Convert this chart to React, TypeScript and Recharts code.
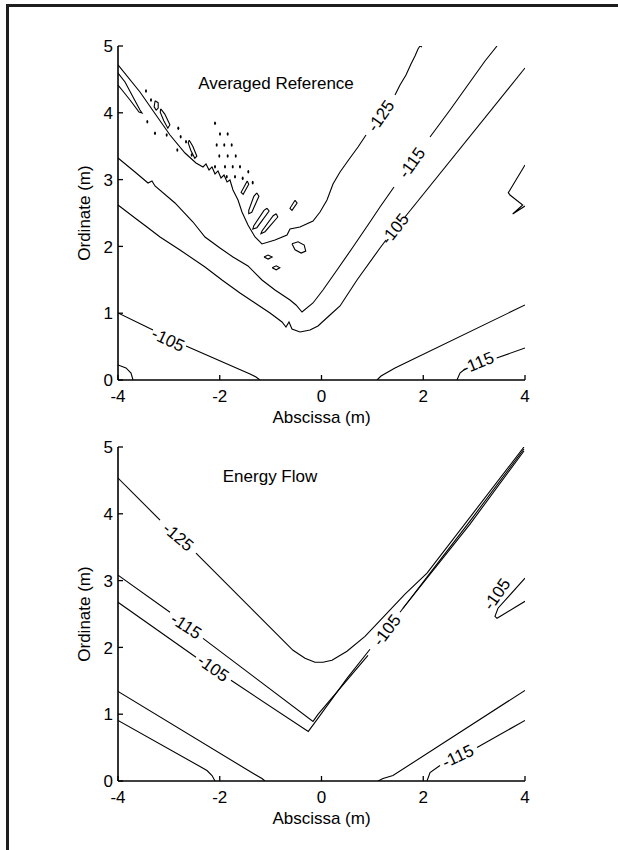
import React from 'react';
import { ComposedChart, Line, Scatter, XAxis, YAxis, Label } from 'recharts';

type P = [number, number];

const xTicks = [-4, -2, 0, 2, 4];
const yTicks = [0, 1, 2, 3, 4, 5];

// ---- Averaged Reference (top panel) ----
const ar125a: P[] = [[-4, 4.716], [-3.568, 4.311], [-3.253, 3.967], [-2.978, 3.668], [-2.683, 3.398], [-2.467, 3.249], [-2.329, 3.189], [-2.27, 3.234], [-2.211, 3.144], [-2.152, 3.189], [-2.093, 3.084], [-2.034, 3.129], [-1.975, 3.024], [-1.916, 3.069], [-1.857, 2.964], [-1.799, 2.994], [-1.74, 2.844], [-1.641, 2.695], [-1.563, 2.515], [-1.445, 2.32], [-1.307, 2.141], [-1.17, 2.036], [-0.914, 2.096], [-0.678, 2.171], [-0.619, 2.26], [-0.423, 2.29], [-0.167, 2.38], [-0.029, 2.515], [0.108, 2.695], [0.226, 2.934], [0.364, 3.114], [0.56, 3.323], [0.718, 3.488], [0.875, 3.668]];
const ar125b: P[] = [[1.445, 4.266], [1.543, 4.416], [1.661, 4.566], [1.759, 4.731], [1.838, 4.85], [1.897, 4.955], [1.936, 5.0], [1.976, 4.985]];
const ar115a: P[] = [[-4, 3.323], [-3.666, 3.114], [-3.41, 2.949], [-3.332, 2.979], [-3.273, 2.904], [-2.88, 2.65], [-2.526, 2.365], [-2.29, 2.141], [-1.995, 1.976], [-1.74, 1.841], [-1.445, 1.707], [-1.17, 1.497], [-0.914, 1.347], [-0.619, 1.198], [-0.501, 1.123], [-0.383, 1.018], [-0.167, 1.153], [0.029, 1.347], [0.305, 1.647], [0.619, 1.991], [0.953, 2.365], [1.15, 2.59], [1.425, 2.889]];
const ar115b: P[] = [[2.133, 3.638], [2.526, 4.042], [2.919, 4.461], [3.214, 4.775], [3.45, 5.0]];
const ar105a: P[] = [[-4, 2.62], [-3.666, 2.425], [-3.43, 2.29], [-3.174, 2.141], [-2.781, 1.946], [-2.29, 1.692], [-1.956, 1.497], [-1.602, 1.302], [-1.307, 1.153], [-1.012, 1.003], [-0.776, 0.868], [-0.698, 0.793], [-0.639, 0.868], [-0.58, 0.763], [-0.423, 0.719], [-0.226, 0.749], [-0.069, 0.808], [0.167, 0.973], [0.364, 1.108], [0.698, 1.497], [1.15, 1.976], [1.268, 2.096]];
const ar105b: P[] = [[1.641, 2.44], [4, 4.671]];
const arTongue: P[] = [[-4, 4.596], [-3.862, 4.461], [-3.705, 4.237], [-3.568, 4.042], [-3.528, 3.997], [-3.587, 4.012], [-3.764, 4.192], [-3.921, 4.341], [-4, 4.416]];
const arLoopA: P[] = [[-3.27, 4.18], [-3.21, 4.15], [-3.21, 4.07], [-3.25, 4.04], [-3.29, 4.09], [-3.27, 4.18]];
const arLoopB: P[] = [[-3.16, 4.06], [-3.08, 3.98], [-2.98, 3.82], [-3.02, 3.77], [-3.1, 3.88], [-3.17, 4.01], [-3.16, 4.06]];
const arLoopC: P[] = [[-2.6, 3.59], [-2.53, 3.5], [-2.45, 3.35], [-2.49, 3.32], [-2.57, 3.44], [-2.62, 3.55], [-2.6, 3.59]];
const arLoopF: P[] = [[-1.46, 2.98], [-1.43, 2.93], [-1.54, 2.78], [-1.58, 2.81], [-1.46, 2.98]];
const arLoopG: P[] = [[-1.27, 2.8], [-1.23, 2.75], [-1.37, 2.51], [-1.43, 2.49], [-1.43, 2.54], [-1.33, 2.75], [-1.27, 2.8]];
const arLoopH: P[] = [[-1.07, 2.57], [-1.03, 2.53], [-1.27, 2.28], [-1.35, 2.26], [-1.33, 2.31], [-1.13, 2.54], [-1.07, 2.57]];
const arLoopI: P[] = [[-0.89, 2.49], [-0.86, 2.44], [-1.11, 2.22], [-1.19, 2.19], [-1.17, 2.23], [-0.95, 2.46], [-0.89, 2.49]];
const arLoopK: P[] = [[-0.58, 2.04], [-0.46, 2.07], [-0.34, 2.02], [-0.31, 1.93], [-0.4, 1.9], [-0.52, 1.95], [-0.58, 2.04]];
const arLoopL: P[] = [[-1.13, 1.84], [-1.05, 1.87], [-0.97, 1.84], [-1.05, 1.81], [-1.13, 1.84]];
const arLoopM: P[] = [[-0.97, 1.68], [-0.89, 1.71], [-0.82, 1.68], [-0.89, 1.65], [-0.97, 1.68]];
const arLoopN: P[] = [[-0.52, 2.69], [-0.48, 2.65], [-0.58, 2.54], [-0.62, 2.57], [-0.52, 2.69]];
const ar105La: P[] = [[-4, 1.003], [-3.312, 0.749]];
const ar105Lb: P[] = [[-2.663, 0.509], [-1.405, 0.09], [-1.287, 0.045], [-1.209, 0]];
const arCorner: P[] = [[-4, 0.225], [-3.843, 0.18], [-3.744, 0.105], [-3.705, 0]];
const arR1: P[] = [[1.091, 0], [1.17, 0.06], [1.307, 0.12], [1.445, 0.18], [4, 1.123]];
const arR2a: P[] = [[2.663, 0], [2.722, 0.105], [2.821, 0.165]];
const arR2b: P[] = [[3.443, 0.329], [4, 0.479]];
const arZig: P[] = [[4, 3.219], [3.672, 2.804], [3.705, 2.769], [3.955, 2.62], [3.758, 2.485], [4, 2.605]];

const arDots: P[] = [[-3.45, 4.326], [-3.351, 4.192], [-3.424, 3.867], [-3.273, 3.693], [-3.043, 3.668], [-2.815, 3.768], [-2.768, 3.642], [-2.663, 3.567], [-2.834, 3.443], [-2.551, 3.368],
  [-2.093, 3.843], [-1.995, 3.683], [-1.844, 3.683], [-2.06, 3.518], [-1.911, 3.518], [-1.765, 3.518], [-2.009, 3.353], [-1.844, 3.353], [-1.686, 3.353], [-2.093, 3.193], [-1.897, 3.193], [-1.745, 3.193], [-1.602, 3.193], [-1.439, 3.118], [-1.863, 3.043], [-1.7, 3.043], [-1.549, 3.019], [-1.352, 2.954]];

const arLabels: [string, number, number, number][] = [
  ['Averaged Reference', -0.894, 4.446, 0],
  ['-125', 1.17, 3.952, -55],
  ['-115', 1.779, 3.249, -54],
  ['-105', 1.445, 2.26, -52],
  ['-105', -3.017, 0.599, 25],
  ['-115', 3.076, 0.254, -22],
];

// ---- Energy Flow (bottom panel) ----
const ef125a: P[] = [[-4, 4.535], [-3.174, 3.906]];
const ef125b: P[] = [[-2.467, 3.411], [-0.56, 1.957], [-0.324, 1.837], [-0.128, 1.777], [0.029, 1.777], [0.206, 1.807], [0.501, 1.942], [0.855, 2.166], [1.209, 2.451], [1.641, 2.796], [2.074, 3.111], [3.98, 5.0]];
const ef115a: P[] = [[-4, 3.081], [-2.978, 2.526]];
const ef115b: P[] = [[-2.329, 2.136], [-0.167, 0.892], [-0.069, 0.997], [0.914, 1.882]];
const ef115c: P[] = [[1.602, 2.586], [2.919, 3.846], [3.98, 4.94]];
const ef105a: P[] = [[-4, 2.676], [-2.467, 1.852]];
const ef105b: P[] = [[-1.779, 1.507], [-0.26, 0.742], [-0.128, 0.877], [0.501, 1.537], [0.953, 1.972]];
const ef105c: P[] = [[1.543, 2.526], [2.133, 3.111], [2.919, 3.891], [3.98, 4.97]];
const efTongue: P[] = [[4, 3.036], [3.469, 2.586], [3.41, 2.466], [3.45, 2.436], [3.548, 2.481], [4, 2.691]];
const efL1: P[] = [[-4, 1.342], [-1.405, 0.142], [-1.307, 0.097], [-1.17, 0.037], [-1.111, 0]];
const efL2: P[] = [[-4, 0.907], [-2.388, 0.217], [-2.251, 0.157], [-2.152, 0.082], [-2.093, 0]];
const efR1: P[] = [[1.111, 0], [1.209, 0.037], [1.405, 0.082], [4, 1.357]];
const efR2a: P[] = [[2.074, 0], [2.133, 0.127], [2.329, 0.232]];
const efR2b: P[] = [[3.057, 0.502], [4, 0.907]];

const efLabels: [string, number, number, number][] = [
  ['Energy Flow', -1.012, 4.565, 0],
  ['-125', -2.821, 3.651, 40],
  ['-115', -2.663, 2.316, 33],
  ['-105', -2.133, 1.687, 35],
  ['-105', 1.287, 2.256, -53],
  ['-105', 3.45, 2.796, -55],
  ['-115', 2.683, 0.367, -25],
];

const arLines = [ar125a, ar125b, ar115a, ar115b, ar105a, ar105b, arTongue, arLoopA, arLoopB, arLoopC, arLoopF, arLoopG, arLoopH, arLoopI, arLoopK, arLoopL, arLoopM, arLoopN, ar105La, ar105Lb, arCorner, arR1, arR2a, arR2b, arZig];
const efLines = [ef125a, ef125b, ef115a, ef115b, ef115c, ef105a, ef105b, ef105c, efTongue, efL1, efL2, efR1, efR2a, efR2b];

const FONT = '"Liberation Sans", Arial, Helvetica, sans-serif';

const toPts = (a: P[]) => a.map(([x, y]) => ({ x, y }));

const XTick = (props: any) => {
  const { x, y, payload } = props;
  return (
    <g>
      <line x1={x} x2={x} y1={y - 10} y2={y - 15} stroke="#000" strokeWidth={1.3} />
      <text x={x} y={y} dy="0.71em" textAnchor="middle" fontSize={17} fill="#000">{payload.value}</text>
    </g>
  );
};

const YTick = (props: any) => {
  const { x, y, payload } = props;
  return (
    <g>
      <line x1={x + 5} x2={x + 10} y1={y} y2={y} stroke="#000" strokeWidth={1.3} />
      <text x={x} y={y} dy="0.36em" textAnchor="end" fontSize={17} fill="#000">{payload.value}</text>
    </g>
  );
};

const LabelShape = (props: any) => {
  const { cx, cy, payload } = props;
  return (
    <text x={cx} y={cy} transform={`rotate(${payload.angle} ${cx} ${cy})`} textAnchor="middle" dominantBaseline="central" fontSize={17} fill="#000">
      {payload.text}
    </text>
  );
};

const DotShape = (props: any) => <ellipse cx={props.cx} cy={props.cy} rx={1} ry={1.8} fill="#000" />;

const Panel = ({ top, lines, labels, dots }: { top: number; lines: P[][]; labels: [string, number, number, number][]; dots?: P[] }) => (
  <div style={{ position: 'absolute', left: 0, top, width: 618, height: 454 }}>
    <ComposedChart width={618} height={454} margin={{ top: 46, right: 93, bottom: 0, left: 50 }} style={{ fontFamily: FONT }}>
      <XAxis type="number" dataKey="x" domain={[-4, 4]} ticks={xTicks} interval={0} allowDataOverflow height={74}
        tickSize={0} tickMargin={10} tick={<XTick />} axisLine={{ stroke: '#000', strokeWidth: 1.6 }} tickLine={false}>
        <Label value="Abscissa (m)" position="center" style={{ fontSize: 17, fill: '#000', fontFamily: FONT }} />
      </XAxis>
      <YAxis type="number" dataKey="y" domain={[0, 5]} ticks={yTicks} interval={0} allowDataOverflow width={68}
        tickSize={0} tickMargin={5} tick={<YTick />} axisLine={{ stroke: '#000', strokeWidth: 1.6 }} tickLine={false}>
        <Label value="Ordinate (m)" position="center" angle={-90} style={{ fontSize: 17, fill: '#000', fontFamily: FONT }} />
      </YAxis>
      {lines.map((l, i) => (
        <Line key={i} data={toPts(l)} dataKey="y" type="linear" stroke="#000" strokeWidth={1.1} dot={false} activeDot={false} isAnimationActive={false} />
      ))}
      {dots && <Scatter data={toPts(dots)} shape={<DotShape />} isAnimationActive={false} />}
      <Scatter data={labels.map(([text, x, y, angle]) => ({ x, y, text, angle }))} shape={<LabelShape />} isAnimationActive={false} />
    </ComposedChart>
  </div>
);

export default function App() {
  return (
    <div style={{ position: 'absolute', left: 0, top: 0, width: 618, height: 850, background: '#fff', overflow: 'hidden', fontFamily: FONT }}>
      <style>{'html, body { margin: 0; overflow: hidden; }'}</style>
      <div style={{ position: 'absolute', left: 6, top: 4, width: 620, height: 850, borderTop: '3px solid #1e1e1e', borderLeft: '3px solid #1e1e1e' }} />
      <Panel top={0} lines={arLines} labels={arLabels} dots={arDots} />
      <Panel top={401} lines={efLines} labels={efLabels} />
    </div>
  );
}
